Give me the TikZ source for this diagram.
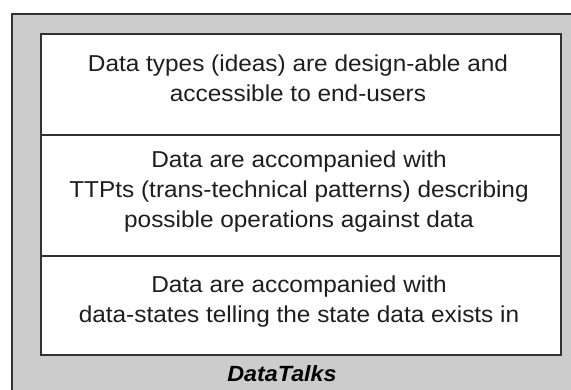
\documentclass[tikz,border=0pt]{standalone}
\usepackage{fontspec}
\setmainfont{Liberation Sans}[FakeStretch=1.06]
\definecolor{framegray}{HTML}{CCCCCC}
\definecolor{edgegray}{HTML}{333333}
\definecolor{inkgray}{HTML}{1E1E1E}
\begin{document}
\begin{tikzpicture}[x=1pt,y=-1pt,
  line/.style={anchor=base,inner sep=0pt,text=inkgray,font=\fontsize{23}{30}\selectfont},
  caption/.style={anchor=base,inner sep=0pt,text=black,font=\fontsize{22}{26}\selectfont\bfseries\itshape}]
\useasboundingbox (0,0) rectangle (571,389);
% outer frame (its right and lower edges run past the page)
\draw[edgegray,line width=2pt,fill=framegray] (11.5,14) rectangle (620,440);
% stack of three layers
\draw[edgegray,line width=2pt,fill=white] (41,34) rectangle (561,355);
\coordinate (d1l) at (41,134.5);
\coordinate (d1r) at (561,134.5);
\coordinate (d2l) at (41,255.5);
\coordinate (d2r) at (561,255.5);
\draw[edgegray,line width=2pt] (d1l) -- (d1r);
\draw[edgegray,line width=2pt] (d2l) -- (d2r);
% layer texts
\node[line] (t1a) at (298,71) {Data types (ideas) are design-able and};
\node[line] (t1b) at (298,101) {accessible to end-users};
\node[line] (t2a) at (299,167) {Data are accompanied with};
\node[line] (t2b) at (299,197) {TTPts (trans-technical patterns) describing};
\node[line] (t2c) at (299,227) {possible operations against data};
\node[line] (t3a) at (299,292) {Data are accompanied with};
\node[line] (t3b) at (299,322) {data-states telling the state data exists in};
% frame title
\node[caption] (title) at (282,381) {DataTalks};
\end{tikzpicture}
\end{document}
